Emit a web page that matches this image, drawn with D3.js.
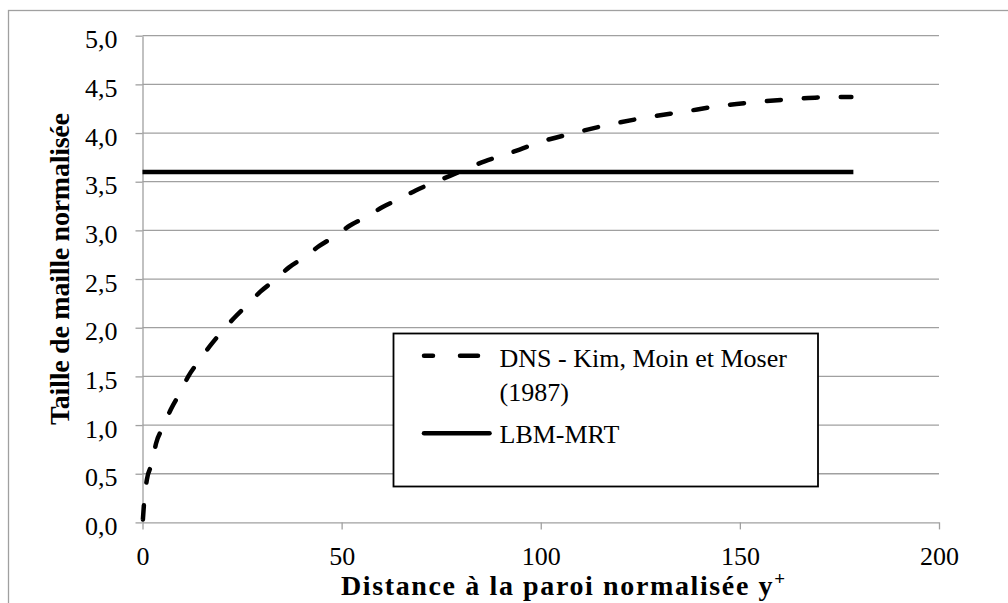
<!DOCTYPE html>
<html>
<head>
<meta charset="utf-8">
<script src="https://cdn.jsdelivr.net/npm/d3@7"></script>
<style>
    body { margin: 0; background: #fff; }
    text { font-family: "Liberation Serif", "Times New Roman", serif; fill: #000; }
    .axis path, .axis line { stroke: #a0a0a0; stroke-width: 1.3; }
    .axis text { font-size: 26px; }
    .grid line { stroke: #a0a0a0; stroke-width: 1.3; }
    .axis-title { font-size: 28px; font-weight: bold; }
    .legend text { font-size: 26px; }
</style>
</head>
<body>
<div id="chart"></div>
<script>

// DNS - Kim, Moin et Moser (1987)
let dnsYplus = [0.1, 0.45, 1.1, 2.4, 3.4, 5.2, 7.1, 9.4, 11.5, 14, 16.9, 19.9, 23, 26.2, 29.6, 33.2,
    36.8, 40.5, 44.4, 48.3, 52.1, 56.3, 60.3, 64.4, 68.6, 73, 77.2, 81.8, 85.9, 90.4, 94.7, 99.3,
    108.3, 117.5, 126.5, 136, 145.2, 154.5, 163.8, 173.3, 178]
let dnsSize = [0.03, 0.23, 0.44, 0.61, 0.81, 0.98, 1.16, 1.33, 1.50, 1.65, 1.81, 1.96, 2.10, 2.23, 2.37, 2.49,
    2.62, 2.72, 2.84, 2.94, 3.05, 3.14, 3.24, 3.32, 3.41, 3.49, 3.56, 3.64, 3.71, 3.77, 3.83, 3.90,
    4.00, 4.09, 4.16, 4.22, 4.28, 4.32, 4.35, 4.37, 4.37]

// LBM-MRT
let lbmYplus = [0, 178.5]
let lbmSize = [3.6, 3.6]

let xTicks = [0, 50, 100, 150, 200]
let yTicks = [0, 0.5, 1, 1.5, 2, 2.5, 3, 3.5, 4, 4.5, 5]

let legendLabels = [['DNS - Kim, Moin et Moser', '(1987)'], ['LBM-MRT']]


class LineVis {

    constructor(parentElement) {
        this.parentElement = parentElement;
        this.initVis()
    }

    initVis() {
        let vis = this;

        vis.margin = {top: 35.7, right: 69, bottom: 80.6, left: 142.5};
        vis.width = 1008 - vis.margin.left - vis.margin.right;
        vis.height = 603 - vis.margin.top - vis.margin.bottom;

        vis.svg = d3.select("#" + vis.parentElement).append("svg")
            .attr("width", 1008)
            .attr("height", 603);

        vis.svg.append('rect')
            .attr('width', 1008).attr('height', 603)
            .attr('fill', '#fff');

        // outer chart border (runs off the right and bottom edges)
        vis.svg.append('rect')
            .attr('x', 8.5).attr('y', 10.5)
            .attr('width', 1100).attr('height', 700)
            .attr('fill', 'none')
            .attr('stroke', '#a0a0a0')
            .attr('stroke-width', 1.3);

        vis.g = vis.svg.append('g')
            .attr('transform', `translate(${vis.margin.left}, ${vis.margin.top})`);

        vis.x = d3.scaleLinear().domain([0, 200]).range([0, vis.width]);
        vis.y = d3.scaleLinear().domain([0, 5]).range([vis.height, 0]);

        // gridlines
        vis.g.append('g')
            .attr('class', 'grid')
            .selectAll('line')
            .data(yTicks.filter(d => d > 0))
            .enter().append('line')
            .attr('x1', 0)
            .attr('x2', vis.width)
            .attr('y1', d => vis.y(d))
            .attr('y2', d => vis.y(d));

        let fmt = d => d.toFixed(1).replace('.', ',');

        vis.g.append('g')
            .attr('class', 'axis axis--y')
            .call(d3.axisLeft(vis.y).tickValues(yTicks).tickFormat(fmt)
                .tickSize(7).tickSizeOuter(0).tickPadding(18))
            .selectAll('text').attr('dy', '0.46em');

        vis.g.append('g')
            .attr('class', 'axis axis--x')
            .attr('transform', `translate(0, ${vis.height})`)
            .call(d3.axisBottom(vis.x).tickValues(xTicks).tickFormat(d3.format('d'))
                .tickSize(7).tickSizeOuter(0).tickPadding(17));

        // axis titles
        let xt = vis.svg.append('text')
            .attr('class', 'axis-title')
            .attr('x', 563)
            .attr('y', 595)
            .attr('text-anchor', 'middle')
            .attr('textLength', 444)
            .attr('lengthAdjust', 'spacing');
        xt.append('tspan').text('Distance à la paroi normalisée y');
        xt.append('tspan').attr('font-size', '19px').attr('dy', '-10').text('+');

        vis.svg.append('text')
            .attr('class', 'axis-title')
            .attr('transform', 'translate(69, 269) rotate(-90)')
            .attr('text-anchor', 'middle')
            .attr('textLength', 312)
            .attr('lengthAdjust', 'spacing')
            .text('Taille de maille normalisée');

        vis.updateVis()
    }

    updateVis() {
        let vis = this;

        let line = d3.line()
            .x(d => vis.x(d[0]))
            .y(d => vis.y(d[1]));

        vis.g.append('path')
            .datum(lbmYplus.map((d, i) => [d, lbmSize[i]]))
            .attr('fill', 'none')
            .attr('stroke', '#000')
            .attr('stroke-width', 4.5)
            .attr('d', line);

        vis.g.append('path')
            .datum(dnsYplus.map((d, i) => [d, dnsSize[i]]))
            .attr('fill', 'none')
            .attr('stroke', '#000')
            .attr('stroke-width', 4.5)
            .attr('stroke-linecap', 'round')
            .attr('stroke-dasharray', '14,23')
            .attr('d', line.curve(d3.curveMonotoneX));

        // legend
        let legend = vis.svg.append('g')
            .attr('class', 'legend')
            .attr('transform', 'translate(393.5, 333.5)');

        legend.append('rect')
            .attr('width', 424.5)
            .attr('height', 153)
            .attr('fill', '#fff')
            .attr('stroke', '#000')
            .attr('stroke-width', 1.8);

        legend.append('line')
            .attr('x1', 30.5).attr('x2', 84.5)
            .attr('y1', 22.2).attr('y2', 22.2)
            .attr('stroke', '#000')
            .attr('stroke-width', 4.5)
            .attr('stroke-linecap', 'round')
            .attr('stroke-dasharray', '9,27,18,100');

        legend.append('line')
            .attr('x1', 30.5).attr('x2', 96)
            .attr('y1', 99.8).attr('y2', 99.8)
            .attr('stroke', '#000')
            .attr('stroke-width', 4.5)
            .attr('stroke-linecap', 'round');

        let baselines = [[33.2, 67], [109.5]];
        legendLabels.forEach((lines, i) => {
            lines.forEach((t, j) => {
                legend.append('text')
                    .attr('x', 106)
                    .attr('y', baselines[i][j])
                    .text(t);
            })
        })
    }
}

new LineVis('chart');
</script>
</body>
</html>
